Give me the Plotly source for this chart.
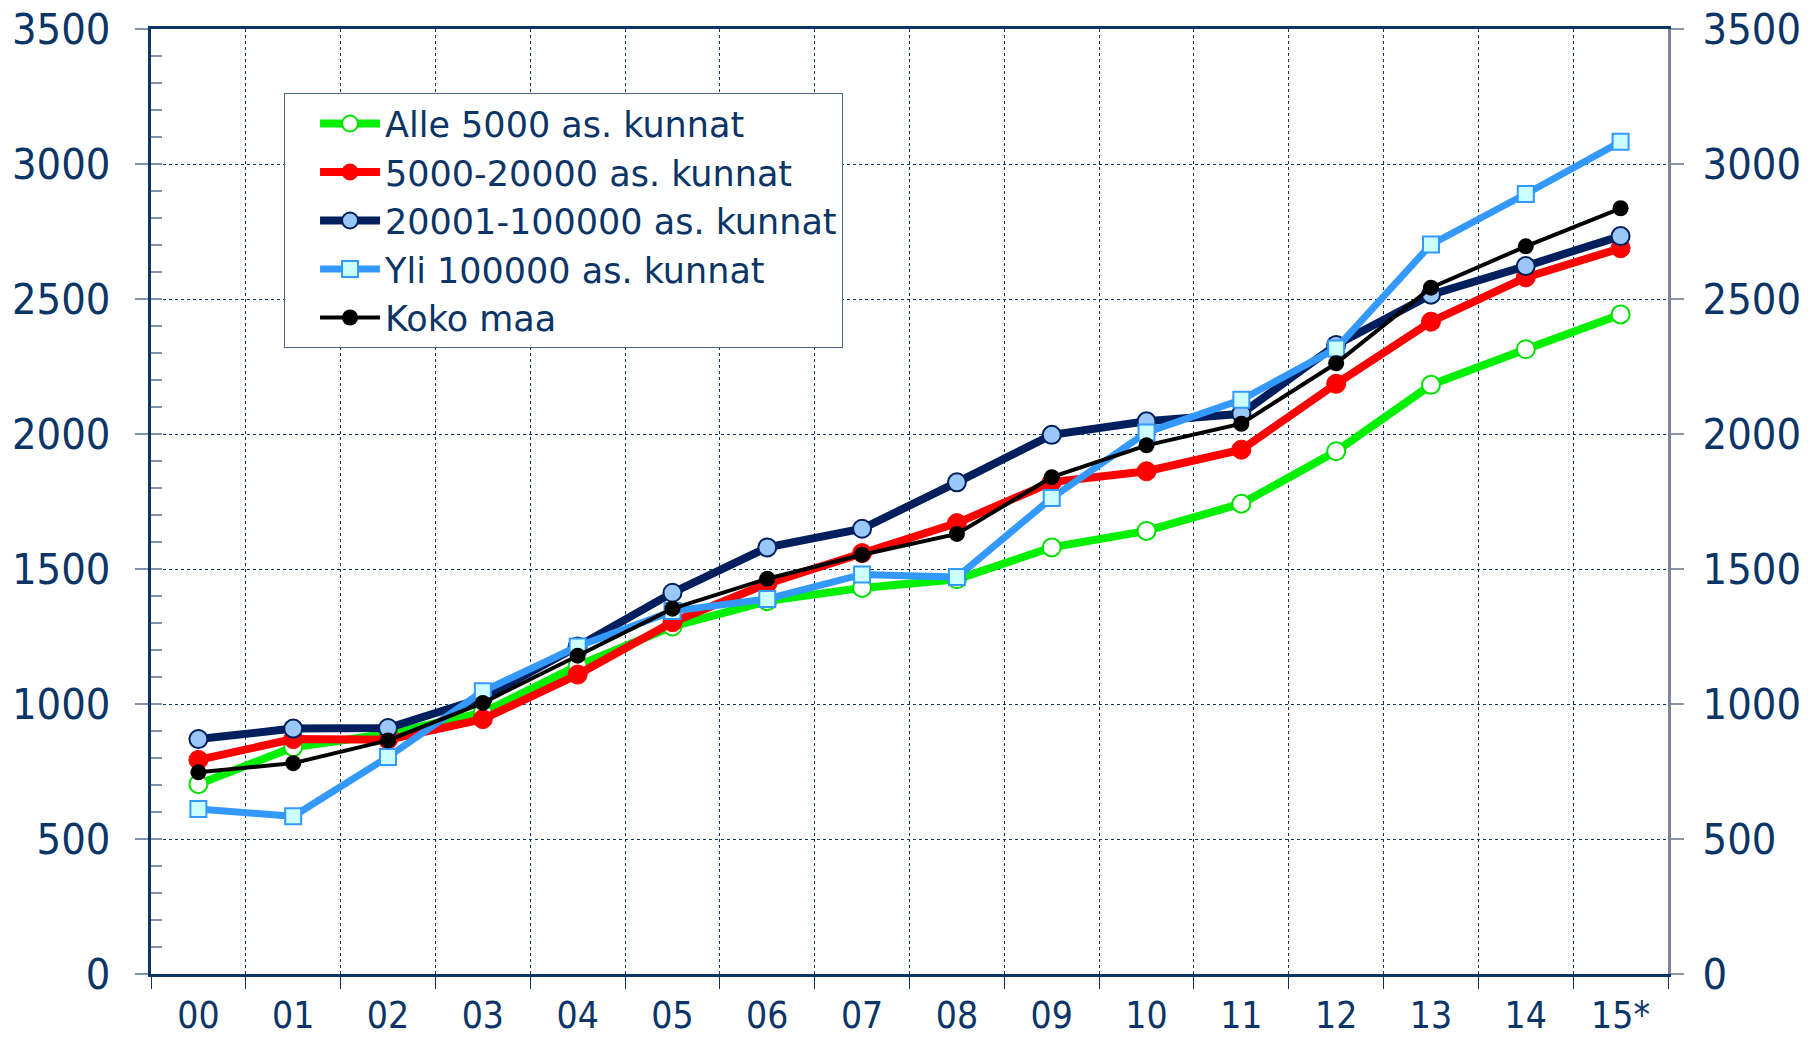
import plotly.graph_objects as go

years = ["00", "01", "02", "03", "04", "05", "06", "07", "08", "09",
         "10", "11", "12", "13", "14", "15*"]

alle_5000 = [703, 840, 890, 968, 1142, 1287, 1381, 1430, 1462, 1580,
             1641, 1742, 1936, 2182, 2314, 2443]
as_5000_20000 = [793, 870, 868, 944, 1109, 1303, 1446, 1559, 1670, 1822,
                 1862, 1942, 2186, 2416, 2580, 2688]
as_20001_100000 = [870, 909, 911, 1022, 1213, 1412, 1580, 1649, 1821, 1997,
                   2047, 2075, 2330, 2516, 2622, 2733]
yli_100000 = [611, 584, 804, 1047, 1213, 1344, 1389, 1480, 1470, 1763,
              2006, 2127, 2317, 2702, 2889, 3082]
koko_maa = [747, 781, 865, 1004, 1179, 1353, 1464, 1553, 1630, 1840,
            1958, 2038, 2262, 2542, 2695, 2836]

NAVY = "#0b3467"
TEXT = "#0b3467"
TICKGRAY = "#7f93b0"

fig = go.Figure()

fig.add_trace(go.Scatter(
    x=years, y=alle_5000, name="Alle 5000 as. kunnat", mode="lines+markers",
    line=dict(color="#00f000", width=8),
    marker=dict(symbol="circle", size=18, color="white",
                line=dict(color="#00e000", width=2))))
fig.add_trace(go.Scatter(
    x=years, y=as_5000_20000, name="5000-20000 as. kunnat", mode="lines+markers",
    line=dict(color="#ff0000", width=8),
    marker=dict(symbol="circle", size=19, color="#ff0000",
                line=dict(color="#ff0000", width=1))))
fig.add_trace(go.Scatter(
    x=years, y=as_20001_100000, name="20001-100000 as. kunnat", mode="lines+markers",
    line=dict(color="#001f5c", width=8),
    marker=dict(symbol="circle", size=18, color="#99c8f8",
                line=dict(color="#001f5c", width=2))))
fig.add_trace(go.Scatter(
    x=years, y=yli_100000, name="Yli 100000 as. kunnat", mode="lines+markers",
    line=dict(color="#3399ff", width=7),
    marker=dict(symbol="square", size=16, color="#ccffff",
                line=dict(color="#3399ff", width=2))))
fig.add_trace(go.Scatter(
    x=years, y=koko_maa, name="Koko maa", mode="lines+markers",
    line=dict(color="#000000", width=4),
    marker=dict(symbol="circle", size=16, color="#000000")))

# carrier traces so the right-hand axis and the inner minor-tick axis are drawn
for ax in ("y2", "y3"):
    fig.add_trace(go.Scatter(x=[years[0]], y=[None], yaxis=ax, mode="markers",
                             showlegend=False, hoverinfo="skip"))

tickfont = dict(family="DejaVu Sans Condensed", size=43, color=TEXT)

fig.update_layout(
    width=1808, height=1037,
    margin=dict(l=151, r=140, t=29, b=63, autoexpand=False),
    paper_bgcolor="white", plot_bgcolor="white",
    showlegend=True,
    legend=dict(
        x=0.0877, y=0.932, xanchor="left", yanchor="top",
        bgcolor="white", bordercolor="#4a6590", borderwidth=1,
        font=dict(family="DejaVu Sans", size=35, color=TEXT),
        itemwidth=60, tracegroupgap=0, indentation=30,
    ),
    xaxis=dict(
        type="category", range=[-0.5, 15.5],
        tickson="boundaries", ticks="outside", ticklen=12,
        tickcolor=NAVY, tickwidth=1,
        showgrid=True, gridcolor=NAVY, griddash="dot", gridwidth=1,
        showline=True, linecolor=NAVY, linewidth=3, mirror=True,
        tickfont=dict(family="DejaVu Sans Condensed", size=37, color=TEXT),
        ticklabelstandoff=7, automargin=False,
    ),
    yaxis=dict(
        range=[0, 3500], dtick=500, tick0=0,
        ticks="outside", ticklen=13, tickcolor=TICKGRAY, tickwidth=2,
        showgrid=True, gridcolor=NAVY, griddash="dot", gridwidth=1,
        zeroline=False,
        showline=True, linecolor=NAVY, linewidth=3,
        tickfont=tickfont, ticklabelstandoff=16, automargin=False,
    ),
    yaxis2=dict(
        overlaying="y", side="right", anchor="x",
        range=[0, 3500], dtick=500, tick0=0,
        ticks="outside", ticklen=13, tickcolor="#8a93a8", tickwidth=2,
        showgrid=False, zeroline=False,
        showline=True, linecolor="#7b8499", linewidth=3,
        tickfont=tickfont, ticklabelstandoff=10, automargin=False,
    ),
    yaxis3=dict(
        overlaying="y", side="left", anchor="x",
        range=[0, 3500], dtick=100, tick0=0,
        ticks="inside", ticklen=11, tickcolor=TICKGRAY, tickwidth=2,
        showticklabels=False, showgrid=False, zeroline=False, showline=False,
        automargin=False,
    ),
)

fig.write_html("out.html",
               config={"displayModeBar": False},
               post_script="document.body.style.margin='0';"
                           "document.body.style.overflow='hidden';")
